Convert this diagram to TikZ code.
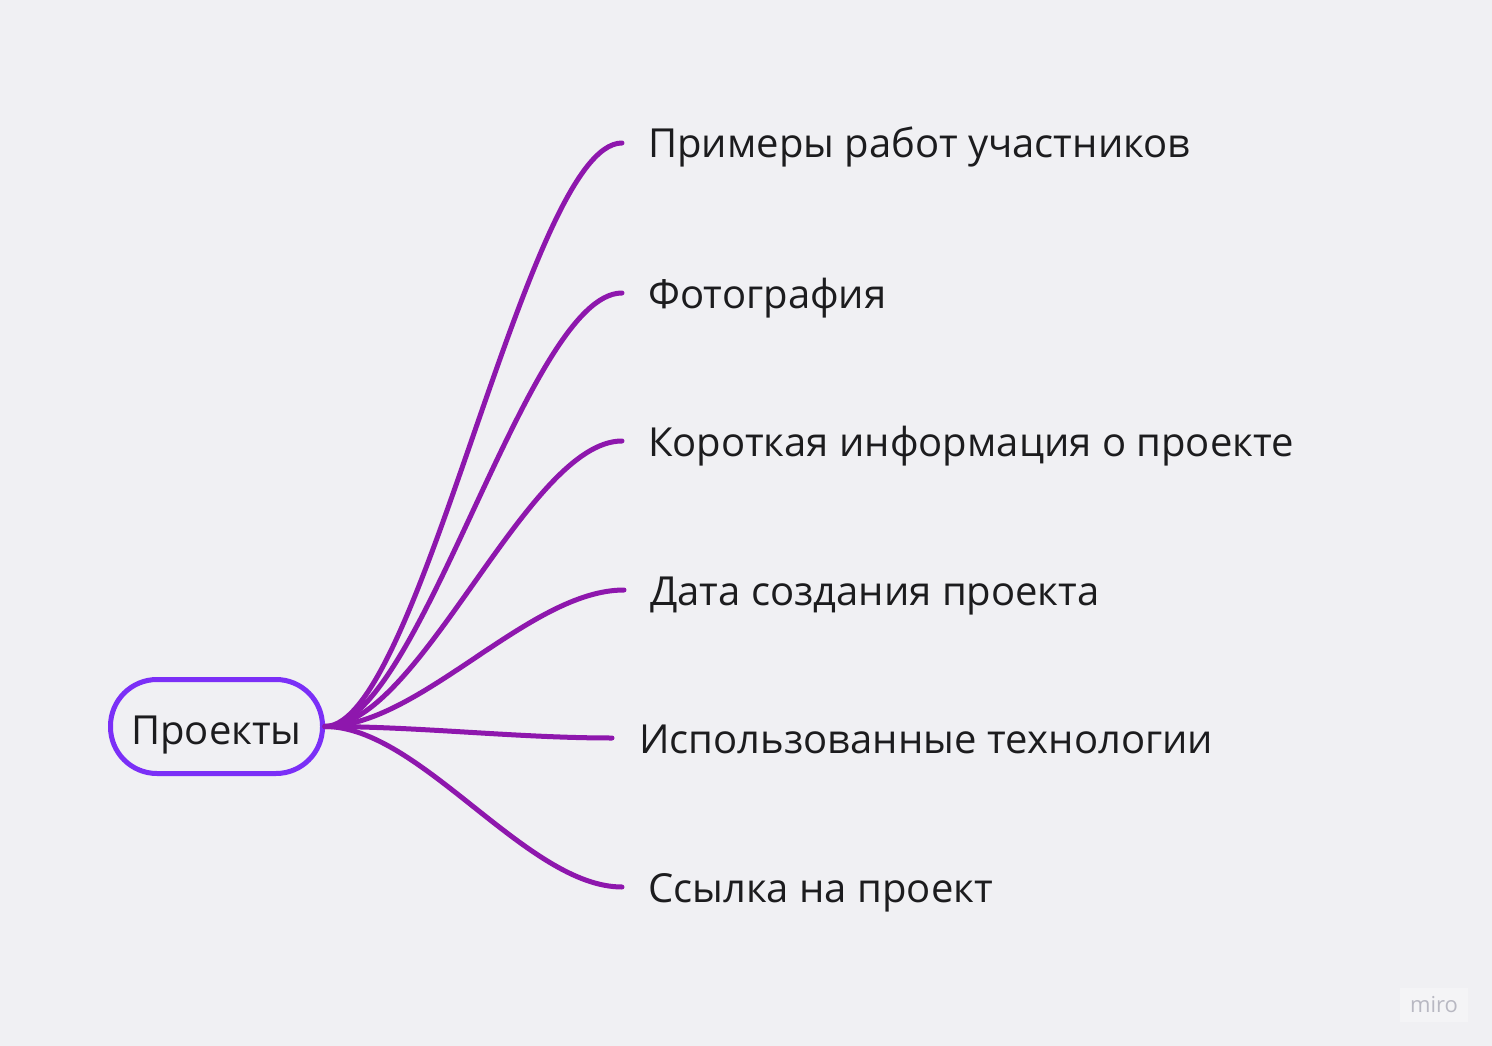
\documentclass[tikz,border=0pt]{standalone}
\usepackage{fontspec}
\setmainfont{Open Sans}
\definecolor{bgc}{HTML}{F0F0F3}
\definecolor{rootc}{HTML}{7B2FF7}
\definecolor{branchc}{HTML}{8E17AD}
\definecolor{txtc}{HTML}{1C1C1E}
\definecolor{wmfill}{HTML}{F4F4F6}
\definecolor{wmtext}{HTML}{B8B8C2}
\begin{document}
\begin{tikzpicture}[x=1pt,y=-1pt,
  rootnode/.style={draw=rootc, line width=5pt, rounded corners=46.5pt, minimum width=212pt, minimum height=94pt, inner sep=0pt, text height=35pt, text depth=0pt, text=txtc, font=\fontsize{40}{46}\selectfont},
  leaf/.style={anchor=base west, inner sep=0pt, text=txtc, font=\fontsize{40}{46}\selectfont},
  branch/.style={draw=branchc, line width=5pt, line cap=round},
  wm/.style={fill=wmfill, minimum width=68pt, minimum height=34pt, inner sep=0pt, text=wmtext, font=\fontsize{22}{26}\selectfont}]
\fill[bgc] (0,0) rectangle (1492,1046);
\useasboundingbox (0,0) rectangle (1492,1046);
\node[rootnode] (r) at (216.5,726.5) {Проекты};
\coordinate (e1) at (622,143);
\coordinate (e2) at (622,293);
\coordinate (e3) at (622,441);
\coordinate (e4) at (624,590);
\coordinate (e5) at (612,738);
\coordinate (e6) at (622,887);
\node[leaf] (t1) at (648,158) {Примеры работ участников};
\node[leaf] (t2) at (648,308) {Фотография};
\node[leaf] (t3) at (648,456) {Короткая информация о проекте};
\node[leaf] (t4) at (650,605) {Дата создания проекта};
\node[leaf] (t5) at (639,753) {Использованные технологии};
\node[leaf] (t6) at (648,902) {Ссылка на проект};
\foreach \i in {1,...,6}{
  \draw[branch] (r.east) .. controls +(95,0) and +(-95,0) .. (e\i);
}
\node[wm] (m) at (1434,1005) {miro};
\end{tikzpicture}
\end{document}
